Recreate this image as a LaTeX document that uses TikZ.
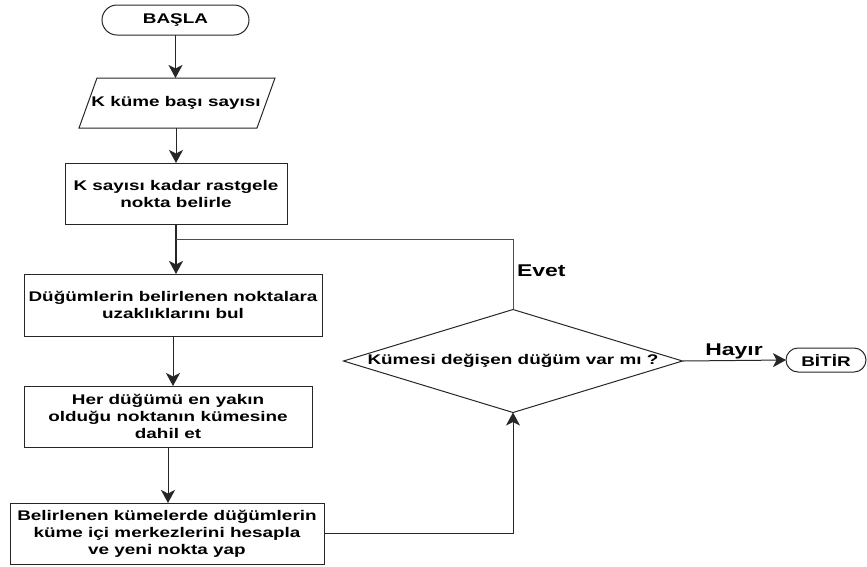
\documentclass[tikz,border=0pt]{standalone}
\usepackage{fontspec}
\setmainfont{Liberation Sans}[FakeStretch=1.35]
\usetikzlibrary{arrows.meta,shapes.geometric}

\begin{document}
\begin{tikzpicture}[x=1pt,y=-1pt,
  every node/.style={font=\fontsize{14}{17}\selectfont\bfseries, inner sep=0pt, outer sep=0pt},
  line/.style={draw=black!85, line width=1pt},
  proc/.style={line, rectangle, align=center},
  term/.style={line, rectangle, align=center},
  arr/.style={line, -{Stealth[length=13pt,width=14pt,inset=3.5pt]}},
  lbl/.style={font=\fontsize{17}{20}\selectfont\bfseries}]

\useasboundingbox (0,0) rectangle (867,566);

% start / end terminals
\node[term, minimum width=147pt, minimum height=30pt, rounded corners=15pt] (start) at (175.5,20) {BAŞLA};
\node[term, minimum width=80pt, minimum height=24pt, rounded corners=12pt] (end) at (826,360) {BİTİR};

% input (parallelogram)
\node[minimum width=178pt, minimum height=50pt] (inp) at (176,103) {K küme başı sayısı};
\draw[line] ([xshift=-79pt]inp.north) -- ([xshift=99pt]inp.north)
  -- ([xshift=81pt]inp.south) -- ([xshift=-97pt]inp.south) -- cycle;

% process steps
\node[proc, minimum width=222pt, minimum height=61pt] (box1) at (176,193.5)
  {K sayısı kadar rastgele\\nokta belirle};
\node[proc, minimum width=298pt, minimum height=62pt] (box2) at (173,305)
  {Düğümlerin belirlenen noktalara\\uzaklıklarını bul};
\node[proc, minimum width=288pt, minimum height=61pt] (box3) at (168,416.5)
  {Her düğümü en yakın\\olduğu noktanın kümesine\\dahil et};
\node[proc, minimum width=314pt, minimum height=61pt] (box4) at (167,533.5)
  {Belirlenen kümelerde düğümlerin\\küme içi merkezlerini hesapla\\ve yeni nokta yap};

% decision
\node[diamond, line, minimum width=339pt, minimum height=103pt] (dec) at (513,361) {};
\node (dectext) at (dec) {Kümesi değişen düğüm var mı ?};

% connectors
\draw[arr] (start.south) -- (start.south |- inp.north);
\draw[arr] (inp.south) -- (inp.south |- box1.north);
\coordinate (join) at (176,239);
\draw[arr, line width=1.3pt] (box1.south) -- (box1.south |- box2.north);
\draw[line, draw=black!70] (dec.north) |- (join);
\draw[arr] (box2.south) -- (box2.south |- box3.north);
\draw[arr] (box3.south) -- (box3.south |- box4.north);
\draw[arr] (box4.east) -| (dec.south);
\draw[arr] (dec.east) -- (end.west);

% branch labels
\node[lbl, anchor=base west] (yes) at (517,276) {Evet};
\node[lbl, anchor=base] (no) at (734,355) {Hayır};
\end{tikzpicture}
\end{document}
